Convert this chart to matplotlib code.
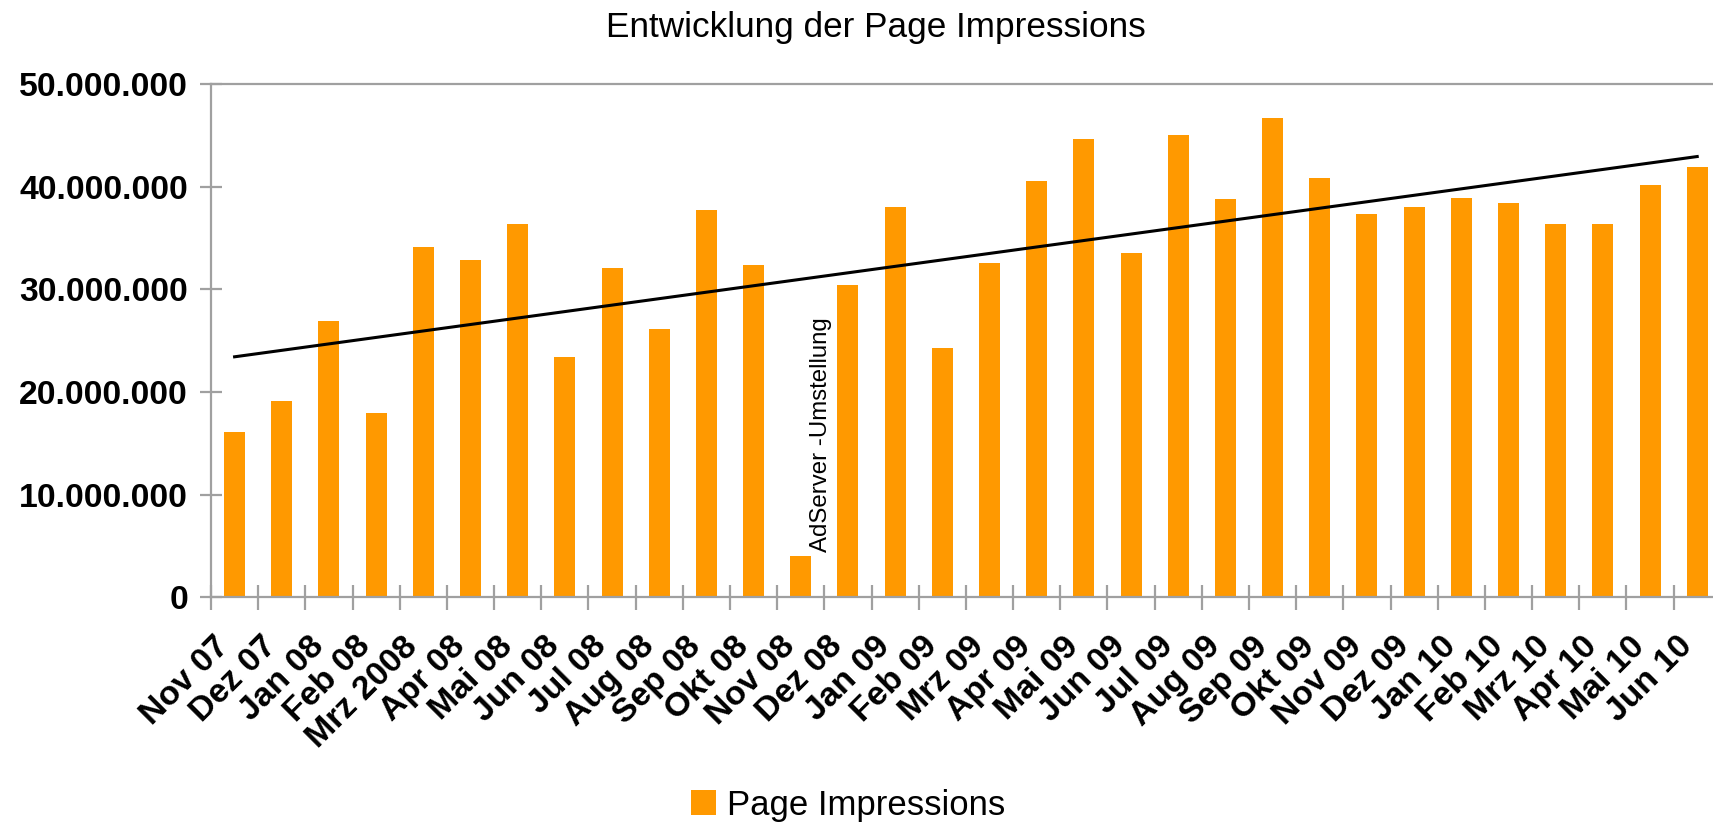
import matplotlib
matplotlib.use('Agg')
import matplotlib.pyplot as plt
import matplotlib.transforms as mtransforms
import numpy as np
from matplotlib.ticker import FixedLocator, FuncFormatter

# Page impressions per month (in millions)
months = ['Nov 07', 'Dez 07', 'Jan 08', 'Feb 08', 'Mrz 2008', 'Apr 08', 'Mai 08', 'Jun 08',
          'Jul 08', 'Aug 08', 'Sep 08', 'Okt 08', 'Nov 08', 'Dez 08', 'Jan 09', 'Feb 09',
          'Mrz 09', 'Apr 09', 'Mai 09', 'Jun 09', 'Jul 09', 'Aug 09', 'Sep 09', 'Okt 09',
          'Nov 09', 'Dez 09', 'Jan 10', 'Feb 10', 'Mrz 10', 'Apr 10', 'Mai 10', 'Jun 10']
impressions_mio = [16.11, 19.13, 26.93, 17.96, 34.14, 32.87, 36.38, 23.42,
                   32.09, 26.15, 37.75, 32.39, 4.03, 30.44, 38.04, 24.30,
                   32.58, 40.57, 44.67, 33.56, 45.06, 38.80, 46.70, 40.85,
                   37.34, 38.02, 38.90, 38.41, 36.36, 36.36, 40.17, 41.92]
y_ticks = [0, 10e6, 20e6, 30e6, 40e6, 50e6]
note_text = 'AdServer -Umstellung'
note_month = 'Nov 08'

plt.rcParams['font.family'] = ['Liberation Sans', 'DejaVu Sans']

W, H = 1713, 824
fig = plt.figure(figsize=(W / 100, H / 100), dpi=100)
ax = fig.add_axes([211 / W, 1 - 597.3 / H, (1720.8 - 211) / W, (597.3 - 84.3) / H])

x = np.arange(len(months))
vals = np.array(impressions_mio) * 1e6

ax.bar(x, vals, width=0.445, color='#ff9900', zorder=2, label='Page Impressions')

# linear trend line (as in the original spreadsheet)
coef = np.polyfit(x, vals, 1)
ax.plot(x, np.polyval(coef, x), color='black', lw=2.2, zorder=3)

gray = '#a0a0a0'
ax.set_xlim(-0.5, len(months) - 0.5)
ax.set_ylim(0, 50e6)
for side in ['left', 'bottom', 'top']:
    ax.spines[side].set_color(gray)
    ax.spines[side].set_linewidth(1.6)
ax.spines['right'].set_visible(False)

ax.yaxis.set_major_locator(FixedLocator(y_ticks))
ax.yaxis.set_major_formatter(FuncFormatter(lambda v, p: f'{v:,.0f}'.replace(',', '.')))
ax.tick_params(axis='y', direction='inout', length=16, width=1.6, color=gray,
               labelsize=24.3, pad=8.5)

ax.set_xticks(x)
ax.set_xticks(np.arange(len(months) + 1) - 0.5, minor=True)
ax.set_xticklabels(months, rotation=45, ha='right', va='center', rotation_mode='anchor')
ax.tick_params(axis='x', which='major', length=0, labelsize=24.3, pad=32)
ax.tick_params(axis='x', which='minor', direction='inout', length=18, width=1.6, color=gray)
shift = mtransforms.ScaledTranslation(-10 / 100, 0, fig.dpi_scale_trans)
for lab in ax.get_xticklabels() + ax.get_yticklabels():
    lab.set_fontweight('bold')
for lab in ax.get_xticklabels():
    lab.set_transform(lab.get_transform() + shift)

ax.text(months.index(note_month) + 0.43, 4.45e6, note_text, rotation=90,
        ha='center', va='bottom', fontsize=17.3, zorder=4)

fig.text(876 / W, 1 - 37 / H, 'Entwicklung der Page Impressions', ha='center',
         va='baseline', fontsize=25.3)

fig.legend(loc='center', bbox_to_anchor=(848 / W, 1 - 805 / H), frameon=False,
           fontsize=25, handlelength=0.72, handleheight=0.72, handletextpad=0.32,
           borderpad=0, borderaxespad=0)

fig.savefig('out.png', dpi=100)
